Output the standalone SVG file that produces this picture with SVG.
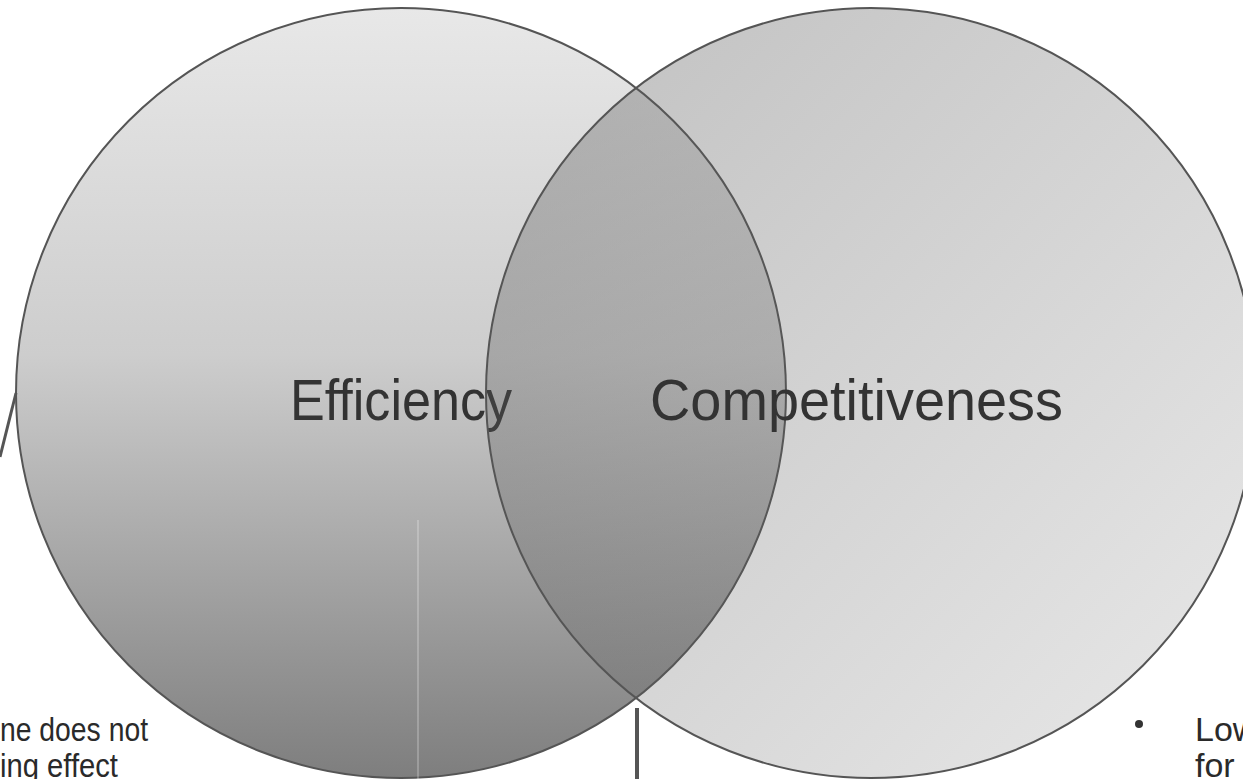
<svg xmlns="http://www.w3.org/2000/svg" width="1243" height="779" viewBox="0 0 1243 779">
<style>
.ring{stroke:#555555;stroke-width:2}
.label{font-family:"Liberation Sans",Arial,sans-serif;font-size:58px;fill:#333333}
.note{font-family:"Liberation Sans",Arial,sans-serif;font-size:34px;fill:#2a2a2a}
.conn{stroke:#555555;fill:none}
</style>
<defs>
<linearGradient id="gL" gradientUnits="userSpaceOnUse" x1="0" y1="8" x2="0" y2="778">
<stop offset="0" stop-color="#e8e8e8"/>
<stop offset="0.45" stop-color="#cdcdcd"/>
<stop offset="1" stop-color="#7e7e7e"/>
</linearGradient>
<linearGradient id="gR" gradientUnits="userSpaceOnUse" x1="560" y1="100" x2="1180" y2="700">
<stop offset="0" stop-color="#5a5a5a" stop-opacity="0.36"/>
<stop offset="1" stop-color="#5a5a5a" stop-opacity="0.16"/>
</linearGradient>
</defs>
<rect width="1243" height="779" fill="#ffffff"/>
<g id="efficiency">
<circle class="ring" cx="401" cy="393" r="385" fill="url(#gL)"/>
<line x1="418" y1="520" x2="418" y2="779" stroke="#ffffff" stroke-opacity="0.3" stroke-width="1.5"/>
<text class="label" x="290" y="420" textLength="222" lengthAdjust="spacingAndGlyphs">Efficiency</text>
</g>
<g id="competitiveness">
<circle class="ring" cx="871" cy="393" r="385" fill="url(#gR)"/>
<text class="label" x="650" y="420" textLength="413" lengthAdjust="spacingAndGlyphs">Competitiveness</text>
</g>
<g id="connectors">
<line class="conn" x1="16" y1="393" x2="0" y2="457" stroke-width="3"/>
<line class="conn" x1="637" y1="708" x2="637" y2="779" stroke-width="4"/>
</g>
<g id="note-left">
<text class="note" x="0" y="741" textLength="148" lengthAdjust="spacingAndGlyphs">ne does not</text>
<text class="note" x="0" y="777" textLength="118" lengthAdjust="spacingAndGlyphs">ing effect</text>
</g>
<g id="note-right">
<circle cx="1139" cy="724" r="4" fill="#333333"/>
<text class="note" x="1195" y="741">Low</text>
<text class="note" x="1195" y="777">for c</text>
</g>
</svg>
